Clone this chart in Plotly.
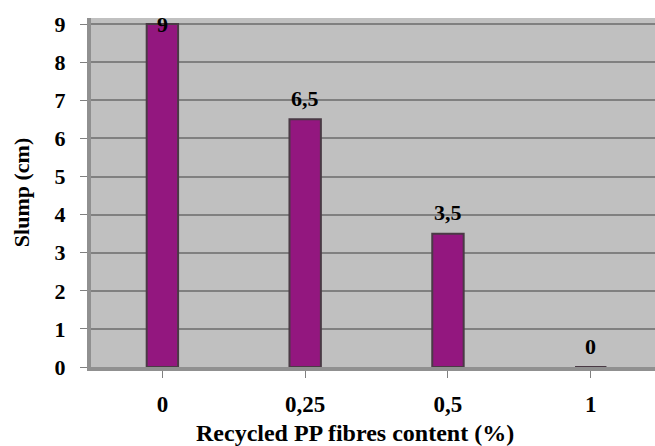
import plotly.graph_objects as go

categories = ["0", "0,25", "0,5", "1"]
slump = [9, 6.5, 3.5, 0]
labels = ["9", "6,5", "3,5", "0"]
x_title = "Recycled PP fibres content (%)"
y_title = "Slump (cm)"

font_family = "Liberation Serif"
xpos = list(range(len(categories)))

fig = go.Figure()
fig.add_trace(go.Bar(
    x=xpos,
    y=slump,
    width=0.22,
    marker=dict(color="#93177F", line=dict(color="#4a3a45", width=2)),
))

# value labels above bars (kept inside the plot area at the top)
for xi, v, t in zip(xpos, slump, labels):
    fig.add_annotation(
        x=xi, y=min(v + 0.55, 9.0), xref="x", yref="y",
        text=t, showarrow=False, yanchor="middle",
        font=dict(family=font_family, size=22, color="black", weight="bold"),
    )

# x-axis title (offset to the left as in the reference)
fig.add_annotation(
    x=0.468, y=0, xref="paper", yref="paper",
    xanchor="center", yanchor="middle", yshift=-66, borderpad=0,
    text=x_title, showarrow=False,
    font=dict(family=font_family, size=24, color="black", weight="bold"),
)

fig.update_layout(
    width=655, height=446,
    margin=dict(l=91, r=0, t=18, b=79),
    paper_bgcolor="white",
    plot_bgcolor="#C0C0C0",
    showlegend=False,
    font=dict(family=font_family, color="black"),
    xaxis=dict(
        tickmode="array",
        tickvals=xpos,
        ticktext=categories,
        range=[-0.5, 3.45],
        tickson="boundaries",
        ticks="outside", ticklen=7, tickcolor="#808080", tickwidth=1,
        ticklabelstandoff=6,
        showgrid=False, zeroline=False,
        showline=True, linecolor="#909090", linewidth=4,
        automargin=False,
        tickfont=dict(family=font_family, size=23, weight="bold"),
    ),
    yaxis=dict(
        range=[0, 9.16],
        tickvals=list(range(10)),
        ticks="outside", ticklen=7, tickcolor="#808080", tickwidth=1,
        ticklabelstandoff=10,
        showgrid=True, gridcolor="#808080", gridwidth=2,
        zeroline=False,
        showline=True, linecolor="#909090", linewidth=4,
        automargin=False,
        tickfont=dict(family=font_family, size=22, weight="bold"),
        title=dict(text=y_title,
                   font=dict(family=font_family, size=22, weight="bold"),
                   standoff=20),
    ),
)

fig.write_html(
    "out.html",
    config={"displayModeBar": False},
    post_script="document.body.style.margin='0';document.body.style.overflow='hidden';",
)
